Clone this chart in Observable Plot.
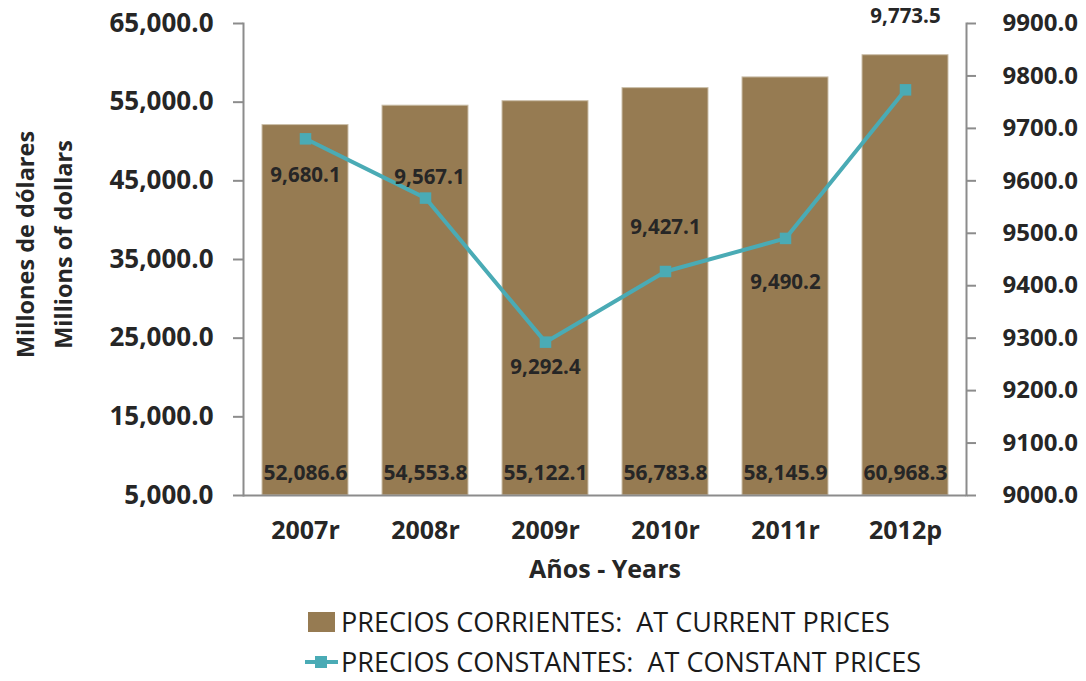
<!DOCTYPE html>
<html>
<head>
<meta charset="utf-8">
<script src="https://cdn.jsdelivr.net/npm/d3@7"></script>
<script src="https://cdn.jsdelivr.net/npm/@observablehq/plot@0.6"></script>
<style>
  html, body { margin: 0; padding: 0; background: #fff; }
  #wrap { position: relative; width: 1086px; height: 681px; font-family: "Open Sans", sans-serif; }
  #chart { position: absolute; left: 0; top: 0; }
  .leg { position: absolute; left: 0; font-size: 27px; color: #1a1a1a; white-space: nowrap; }
  .leg .txt { position: absolute; left: 341px; top: -6px; line-height: 36px; }
</style>
</head>
<body>
<div id="wrap">
  <div id="chart"></div>
  <div class="leg" id="leg1" style="top:610px;">
    <div style="position:absolute;left:308px;top:2px;width:27px;height:20px;background:#967b52;"></div>
    <div class="txt">PRECIOS CORRIENTES:&nbsp; AT CURRENT PRICES</div>
  </div>
  <div class="leg" id="leg2" style="top:650px;">
    <div style="position:absolute;left:305px;top:10px;width:33px;height:4px;background:#4aabb5;"></div>
    <div style="position:absolute;left:315px;top:6px;width:12px;height:12px;background:#4aabb5;"></div>
    <div class="txt">PRECIOS CONSTANTES:&nbsp; AT CONSTANT PRICES</div>
  </div>
</div>
<script>
const years = ["2007r", "2008r", "2009r", "2010r", "2011r", "2012p"];
const currentPrices = [52086.6, 54553.8, 55122.1, 56783.8, 58145.9, 60968.3];
const constantPrices = [9680.1, 9567.1, 9292.4, 9427.1, 9490.2, 9773.5];
const leftTicks = [5000, 15000, 25000, 35000, 45000, 55000, 65000];
const rightTicks = [9000, 9100, 9200, 9300, 9400, 9500, 9600, 9700, 9800, 9900];

// map right axis (9000–9900) onto the left scale (5000–65000)
const toLeft = v => 5000 + (v - 9000) * (60000 / 900);
const fromLeft = v => 9000 + (v - 5000) * (900 / 60000);

const bars = years.map((year, i) => ({year, value: currentPrices[i]}));
const line = years.map((year, i) => ({year, value: constantPrices[i], y: toLeft(constantPrices[i])}));

const fmt = d3.format(",.1f");
const BROWN = "#967b52";
const TEAL = "#4aabb5";
const TXT = "#262626";
const AXIS = "#8c8c8c";

function lineLabel(year, dy, dx = 0) {
  return Plot.text(line.filter(d => d.year === year), {
    x: "year", y: "y", text: d => fmt(d.value), dy, dx,
    fontSize: 20.5, fontWeight: "bold", fill: TXT
  });
}

const chart = Plot.plot({
  width: 1086,
  height: 595,
  marginLeft: 243,
  marginRight: 120,
  marginTop: 23,
  marginBottom: 100,
  style: {fontFamily: "Open Sans, sans-serif", background: "transparent"},
  x: {domain: years, paddingInner: 0.285, paddingOuter: 0.14, label: null},
  y: {domain: [5000, 65000], label: null},
  marks: [
    Plot.barY(bars, {x: "year", y1: 5000, y2: "value", fill: BROWN, stroke: "#cbbfa9", strokeWidth: 1}),
    Plot.text(bars, {x: "year", y: 5000, dy: -22, text: d => fmt(d.value), fontSize: 21, fontWeight: "bold", fill: TXT}),
    Plot.line(line, {x: "year", y: "y", stroke: TEAL, strokeWidth: 4}),
    Plot.dot(line, {x: "year", y: "y", symbol: "square", r: 6.5, fill: TEAL}),
    lineLabel("2007r", 37),
    lineLabel("2008r", -21, 4),
    lineLabel("2009r", 25),
    lineLabel("2010r", -44),
    lineLabel("2011r", 44),
    lineLabel("2012p", -73),
    // axis lines
    Plot.frame({anchor: "left", stroke: AXIS, strokeWidth: 2}),
    Plot.frame({anchor: "right", stroke: AXIS, strokeWidth: 2}),
    Plot.ruleY([5000], {stroke: AXIS, strokeWidth: 2}),
    Plot.axisY({
      anchor: "left", ticks: leftTicks, tickFormat: fmt, tickSize: 10, tickPadding: 20,
      fontSize: 26, fontWeight: "bold", fill: TXT, stroke: AXIS, strokeWidth: 2, label: null
    }),
    Plot.axisY({
      anchor: "right", ticks: rightTicks.map(toLeft), tickFormat: d => fromLeft(d).toFixed(1),
      tickSize: 9, tickPadding: 27, fontSize: 24, fontWeight: "bold", fill: TXT, stroke: AXIS, strokeWidth: 2, label: null
    }),
    Plot.axisX({
      tickSize: 0, tickPadding: 26, fontSize: 25, fontWeight: "bold", fill: TXT, label: null
    }),
    Plot.text(["Años - Years"], {frameAnchor: "bottom", dy: 82, fontSize: 25, fontWeight: "bold", fill: TXT}),
    Plot.text(["Millones de dólares"], {frameAnchor: "left", textAnchor: "middle", dx: -217, dy: -15, rotate: -90, fontSize: 23.5, fontWeight: "bold", fill: TXT}),
    Plot.text(["Millions of dollars"], {frameAnchor: "left", textAnchor: "middle", dx: -179, dy: -15, rotate: -90, fontSize: 23.5, fontWeight: "bold", fill: TXT})
  ]
});
document.getElementById("chart").appendChild(chart);
</script>
</body>
</html>
